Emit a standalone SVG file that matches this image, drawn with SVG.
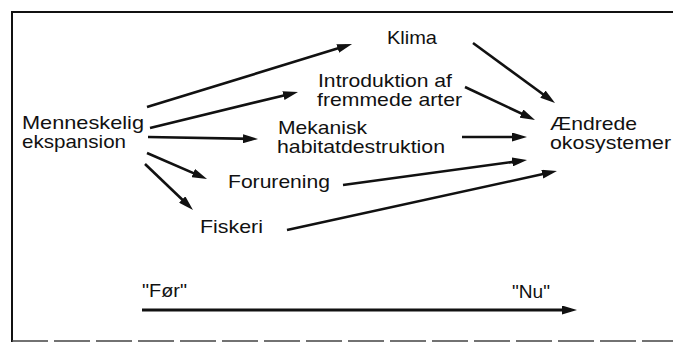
<svg xmlns="http://www.w3.org/2000/svg" width="673" height="342" viewBox="0 0 673 342">
<style>
text{font-family:"Liberation Sans",Arial,Helvetica,sans-serif;font-size:19px;fill:#111}
.c line{stroke:#111;stroke-width:2.6;fill:none;marker-end:url(#ah)}
.frame{stroke:#111;stroke-width:2;fill:none}
</style>
<defs>
<marker id="ah" viewBox="0 0 15 9" refX="9" refY="4.5" markerWidth="15" markerHeight="9" markerUnits="userSpaceOnUse" orient="auto">
<path d="M0,0 L15,4.5 L0,9 Z" fill="#111"/>
</marker>
</defs>
<rect width="673" height="342" fill="#fff"/>
<g id="frame">
<line class="frame" x1="12" y1="12" x2="673" y2="12"/>
<line class="frame" x1="12" y1="11" x2="12" y2="342"/>
<line x1="12" y1="341" x2="673" y2="341" stroke="#444" stroke-width="1.5" stroke-dasharray="36 6"/>
</g>
<g id="menneskelig">
<text x="22" y="129" textLength="122" lengthAdjust="spacingAndGlyphs">Menneskelig</text>
<text x="22" y="148" textLength="104" lengthAdjust="spacingAndGlyphs">ekspansion</text>
</g>
<g id="klima"><text x="387" y="44" textLength="50" lengthAdjust="spacingAndGlyphs">Klima</text></g>
<g id="introduktion">
<text x="318" y="87" textLength="134" lengthAdjust="spacingAndGlyphs">Introduktion af</text>
<text x="317" y="106" textLength="145" lengthAdjust="spacingAndGlyphs">fremmede arter</text>
</g>
<g id="mekanisk">
<text x="278" y="134" textLength="89" lengthAdjust="spacingAndGlyphs">Mekanisk</text>
<text x="277" y="153" textLength="168" lengthAdjust="spacingAndGlyphs">habitatdestruktion</text>
</g>
<g id="forurening"><text x="228" y="188" textLength="102" lengthAdjust="spacingAndGlyphs">Forurening</text></g>
<g id="fiskeri"><text x="200" y="233" textLength="63" lengthAdjust="spacingAndGlyphs">Fiskeri</text></g>
<g id="aendrede">
<text x="550" y="130" textLength="87" lengthAdjust="spacingAndGlyphs">Ændrede</text>
<text x="550" y="149" textLength="121" lengthAdjust="spacingAndGlyphs">okosystemer</text>
</g>
<g id="foer"><text x="142" y="297" textLength="45" lengthAdjust="spacingAndGlyphs">"Før"</text></g>
<g id="nu"><text x="512" y="298" textLength="38" lengthAdjust="spacingAndGlyphs">"Nu"</text></g>
<g id="connectors" class="c">
<line x1="147" y1="107" x2="346.3" y2="45.8"/>
<line x1="150" y1="128" x2="292.2" y2="93.4"/>
<line x1="148" y1="137" x2="252" y2="138.9"/>
<line x1="147" y1="153" x2="201.5" y2="176.6"/>
<line x1="145" y1="164" x2="188.7" y2="205.8"/>
<line x1="473" y1="43" x2="550.2" y2="99.5"/>
<line x1="465" y1="87" x2="529.6" y2="117.4"/>
<line x1="462" y1="137" x2="521" y2="137"/>
<line x1="343" y1="185" x2="521.1" y2="160.8"/>
<line x1="287" y1="230" x2="551.1" y2="172.3"/>
<line x1="142" y1="310" x2="571" y2="310" style="stroke-width:3.2"/>
</g>
</svg>
